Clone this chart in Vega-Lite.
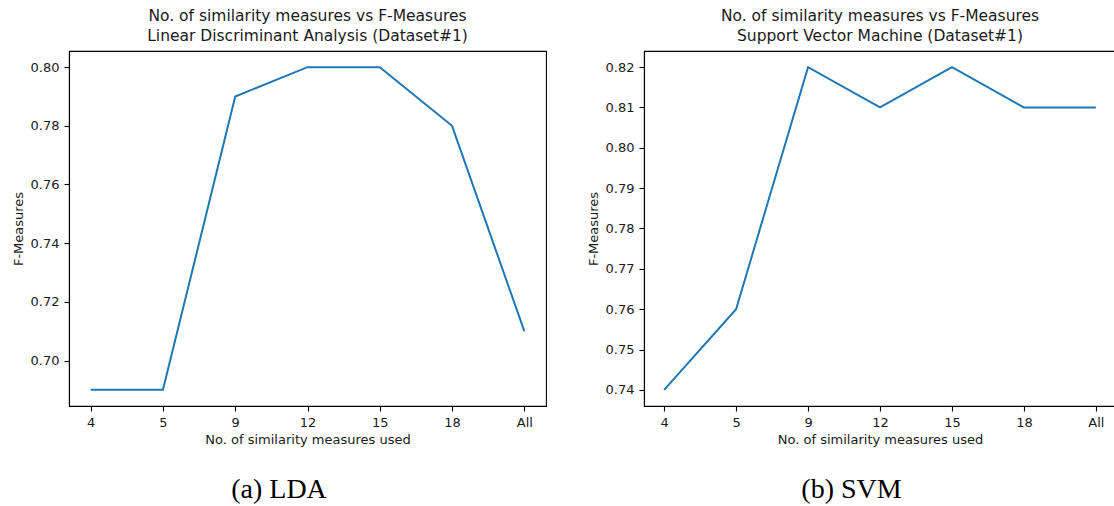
{
  "$schema": "https://vega.github.io/schema/vega-lite/v6.json",
  "padding": {"left": 11, "top": 8, "right": 0, "bottom": 0},
  "background": "#ffffff",
  "datasets": {
    "lda": [
      {"measures": "4", "fmeasure": 0.69},
      {"measures": "5", "fmeasure": 0.69},
      {"measures": "9", "fmeasure": 0.79},
      {"measures": "12", "fmeasure": 0.80},
      {"measures": "15", "fmeasure": 0.80},
      {"measures": "18", "fmeasure": 0.78},
      {"measures": "All", "fmeasure": 0.71}
    ],
    "svm": [
      {"measures": "4", "fmeasure": 0.74},
      {"measures": "5", "fmeasure": 0.76},
      {"measures": "9", "fmeasure": 0.82},
      {"measures": "12", "fmeasure": 0.81},
      {"measures": "15", "fmeasure": 0.82},
      {"measures": "18", "fmeasure": 0.81},
      {"measures": "All", "fmeasure": 0.81}
    ]
  },
  "config": {
    "font": "DejaVu Sans",
    "view": {"stroke": "#000000", "strokeWidth": 1.1},
    "axis": {
      "grid": false,
      "domainColor": "#000000",
      "domainWidth": 1.1,
      "tickColor": "#000000",
      "tickWidth": 1.1,
      "tickSize": 5,
      "labelPadding": 5,
      "labelFont": "DejaVu Sans",
      "labelFontSize": 13,
      "labelColor": "#1a1a1a",
      "titleFont": "DejaVu Sans",
      "titleFontSize": 13,
      "titleFontWeight": "normal",
      "titleColor": "#1a1a1a"
    },
    "axisX": {"labelAngle": 0, "titlePadding": 4},
    "axisY": {"titlePadding": 5},
    "title": {"font": "DejaVu Sans", "fontSize": 15.5, "fontWeight": "normal", "color": "#1a1a1a"},
    "concat": {"spacing": 39}
  },
  "hconcat": [
    {
      "vconcat": [
        {
          "width": 477,
          "height": 355,
          "title": {
            "text": ["No. of similarity measures vs F-Measures", "Linear Discriminant Analysis (Dataset#1)"],
            "anchor": "middle",
            "lineHeight": 20.7,
            "offset": 6
          },
          "data": {"name": "lda"},
          "mark": {"type": "line", "color": "#1f77b4", "strokeWidth": 2},
          "encoding": {
            "x": {
              "field": "measures",
              "type": "ordinal",
              "sort": null,
              "scale": {"type": "point", "padding": 0.3},
              "axis": {"title": "No. of similarity measures used"}
            },
            "y": {
              "field": "fmeasure",
              "type": "quantitative",
              "scale": {"domain": [0.6845, 0.8055], "zero": false, "nice": false},
              "axis": {"title": "F-Measures", "values": [0.70, 0.72, 0.74, 0.76, 0.78, 0.80], "format": ".2f"}
            }
          }
        }
      ],
      "title": {"text": "(a) LDA", "orient": "bottom", "frame": "bounds", "anchor": "middle", "font": "Liberation Serif", "fontSize": 28, "color": "#000000", "offset": 29}
    },
    {
      "vconcat": [
        {
          "width": 472,
          "height": 355,
          "title": {
            "text": ["No. of similarity measures vs F-Measures", "Support Vector Machine (Dataset#1)"],
            "anchor": "middle",
            "lineHeight": 20.7,
            "offset": 6
          },
          "data": {"name": "svm"},
          "mark": {"type": "line", "color": "#1f77b4", "strokeWidth": 2},
          "encoding": {
            "x": {
              "field": "measures",
              "type": "ordinal",
              "sort": null,
              "scale": {"type": "point", "padding": 0.28},
              "axis": {"title": "No. of similarity measures used"}
            },
            "y": {
              "field": "fmeasure",
              "type": "quantitative",
              "scale": {"domain": [0.736, 0.824], "zero": false, "nice": false},
              "axis": {"title": "F-Measures", "values": [0.74, 0.75, 0.76, 0.77, 0.78, 0.79, 0.80, 0.81, 0.82], "format": ".2f"}
            }
          }
        }
      ],
      "title": {"text": "(b) SVM", "orient": "bottom", "frame": "bounds", "anchor": "middle", "font": "Liberation Serif", "fontSize": 28, "color": "#000000", "offset": 29}
    }
  ]
}
